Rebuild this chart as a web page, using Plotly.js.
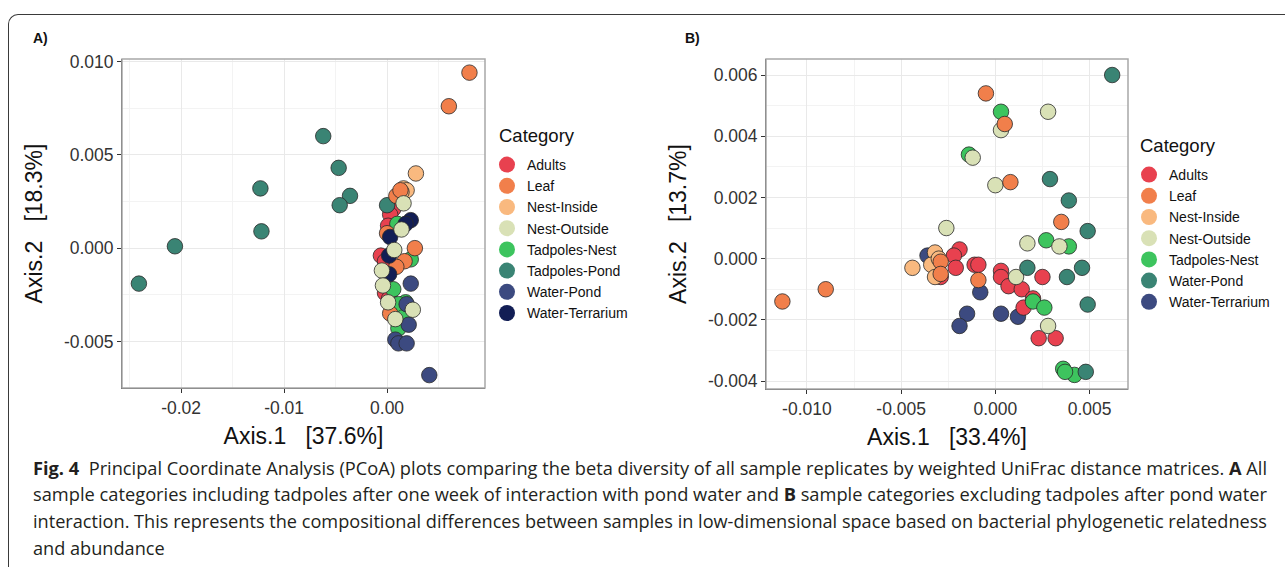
<!DOCTYPE html>
<html>
<head>
<meta charset="utf-8">
<script src="https://cdn.plot.ly/plotly-3.0.1.min.js"></script>
<style>
html,body{margin:0;padding:0;background:#fff;width:1285px;height:567px;overflow:hidden;position:relative;font-family:"Liberation Sans",Arial,sans-serif;}
#frame{position:absolute;left:8px;top:14px;width:1400px;height:700px;border-top:1.5px solid #3a3a3a;border-left:1.5px solid #3a3a3a;border-top-left-radius:10px;box-sizing:border-box;}
#plotA{position:absolute;left:0;top:0;width:660px;height:460px;}
#plotB{position:absolute;left:650px;top:0;width:700px;height:460px;}
.panel{position:absolute;font-family:"Liberation Sans",Arial,sans-serif;font-weight:bold;font-size:14px;color:#111;}
#cap{position:absolute;left:33px;top:0;font-family:"Open Sans",sans-serif;font-size:17.5px;color:#231f20;}
.line{position:absolute;left:0;white-space:nowrap;transform-origin:0 0;line-height:20px;}
</style>
</head>
<body>
<div id="frame"></div>
<div id="plotA"></div>
<div id="plotB"></div>
<div class="panel" style="left:33px;top:30px;">A)</div>
<div class="panel" style="left:685px;top:30px;">B)</div>
<div id="cap">
  <div class="line" id="l1" style="top:458px;"><b>Fig. 4</b>&nbsp; Principal Coordinate Analysis (PCoA) plots comparing the beta diversity of all sample replicates by weighted UniFrac distance matrices. <b>A</b> All</div>
  <div class="line" id="l2" style="top:484px;">sample categories including tadpoles after one week of interaction with pond water and <b>B</b> sample categories excluding tadpoles after pond water</div>
  <div class="line" id="l3" style="top:511px;">interaction. This represents the compositional differences between samples in low-dimensional space based on bacterial phylogenetic relatedness</div>
  <div class="line" id="l4" style="top:538px;">and abundance</div>
</div>
<script>
// ---------- Panel A data (all categories incl. tadpoles) ----------
const categoriesA = ['Adults','Leaf','Nest-Inside','Nest-Outside','Tadpoles-Nest','Tadpoles-Pond','Water-Pond','Water-Terrarium'];
const a_adults_x  = [0.0006, 0.0003, 0.0001, -0.0006, -0.0002, -0.0002, 0.0002];
const a_adults_y  = [0.0021, 0.0018, 0.0012, -0.0004, -0.0007, -0.0024, -0.0027];
const a_leaf_x    = [0.0080, 0.0060, 0.0009, 0.0013, 0.0000, 0.0027, 0.0017, 0.0009, 0.0003];
const a_leaf_y    = [0.0094, 0.0076, 0.0028, 0.0031, 0.0008, 0.0000, -0.0007, -0.0010, -0.0035];
const a_nestin_x  = [0.0028, 0.0016, 0.0019, 0.0014];
const a_nestin_y  = [0.0040, 0.0032, 0.0031, 0.0030];
const a_nestout_x = [0.0016, 0.0014, 0.0007, -0.0005, -0.0004, 0.0001, 0.0025, 0.0008];
const a_nestout_y = [0.0024, 0.0010, -0.0001, -0.0012, -0.0020, -0.0029, -0.0033, -0.0038];
const a_tadnest_x = [0.0010, 0.0023, 0.0006, 0.0018, 0.0011, 0.0011, 0.0016];
const a_tadnest_y = [0.0013, -0.0006, -0.0022, -0.0029, -0.0030, -0.0043, -0.0037];
const a_tadpond_x = [-0.0062, -0.0047, -0.0123, -0.0036, -0.0046, -0.0122, -0.0206, -0.0241, 0.0000];
const a_tadpond_y = [0.0060, 0.0043, 0.0032, 0.0028, 0.0023, 0.0009, 0.0001, -0.0019, 0.0023];
const a_wpond_x   = [0.0023, 0.0019, 0.0021, 0.0008, 0.0011, 0.0019, 0.0041];
const a_wpond_y   = [-0.0019, -0.0030, -0.0041, -0.0049, -0.0051, -0.0051, -0.0068];
const a_wterr_x   = [0.0023, 0.0018, 0.0003, 0.0002, 0.0002];
const a_wterr_y   = [0.0015, 0.0013, 0.0006, -0.0004, -0.0014];

// ---------- Panel B data (excluding tadpoles) ----------
const categoriesB = ['Adults','Leaf','Nest-Inside','Nest-Outside','Tadpoles-Nest','Water-Pond','Water-Terrarium'];
const b_adults_x  = [-0.0019, -0.0022, -0.0021, -0.0029, -0.0011, -0.0009, 0.0003, 0.0003, 0.0007, 0.0014, 0.0015, 0.0020, 0.0025, 0.0023, 0.0032];
const b_adults_y  = [0.0003, 0.0001, -0.0003, -0.0006, -0.0002, -0.0002, -0.0004, -0.0006, -0.0009, -0.0010, -0.0016, -0.0013, -0.0006, -0.0026, -0.0026];
const b_leaf_x    = [-0.0005, 0.0005, 0.0008, 0.0035, -0.0113, -0.0090, -0.0029, -0.0029, -0.0009];
const b_leaf_y    = [0.0054, 0.0044, 0.0025, 0.0012, -0.0014, -0.0010, -0.0001, -0.0005, -0.0007];
const b_nestin_x  = [-0.0044, -0.0032, -0.0034, -0.0032, -0.0030];
const b_nestin_y  = [-0.0003, 0.0002, -0.0002, -0.0006, 0.0000];
const b_nestout_x = [0.0028, 0.0003, -0.0012, 0.0000, -0.0026, 0.0017, 0.0034, 0.0011, 0.0028];
const b_nestout_y = [0.0048, 0.0042, 0.0033, 0.0024, 0.0010, 0.0005, 0.0004, -0.0006, -0.0022];
const b_tadnest_x = [0.0003, -0.0014, 0.0027, 0.0039, 0.0020, 0.0026, 0.0036, 0.0042, 0.0037];
const b_tadnest_y = [0.0048, 0.0034, 0.0006, 0.0004, -0.0014, -0.0016, -0.0036, -0.0038, -0.0037];
const b_wpond_x   = [0.0062, 0.0029, 0.0039, 0.0049, 0.0017, 0.0046, 0.0038, 0.0049, 0.0048];
const b_wpond_y   = [0.0060, 0.0026, 0.0019, 0.0009, -0.0003, -0.0003, -0.0006, -0.0015, -0.0037];
const b_wterr_x   = [-0.0036, -0.0008, -0.0015, -0.0019, 0.0003, 0.0012];
const b_wterr_y   = [0.0001, -0.0011, -0.0018, -0.0022, -0.0018, -0.0019];

// ---------- Tick labels / titles ----------
const aXTickVals = [-0.02, -0.01, 0.00];
const aXTickText = ['-0.02', '-0.01', '0.00'];
const aYTickVals = [-0.005, 0.000, 0.005, 0.010];
const aYTickText = ['-0.005', '0.000', '0.005', '0.010'];
const bXTickVals = [-0.010, -0.005, 0.000, 0.005];
const bXTickText = ['-0.010', '-0.005', '0.000', '0.005'];
const bYTickVals = [-0.004, -0.002, 0.000, 0.002, 0.004, 0.006];
const bYTickText = ['-0.004', '-0.002', '0.000', '0.002', '0.004', '0.006'];
const aXTitle = 'Axis.1\u00a0\u00a0\u00a0[37.6%]';
const aYTitle = 'Axis.2\u00a0\u00a0\u00a0[18.3%]';
const bXTitle = 'Axis.1\u00a0\u00a0\u00a0[33.4%]';
const bYTitle = 'Axis.2\u00a0\u00a0\u00a0[13.7%]';
const legendTitle = 'Category';

// ---------- Styles ----------
const colA = {'Adults':'#E8414F','Leaf':'#F17F4B','Nest-Inside':'#F9B97F','Nest-Outside':'#D9E1B6','Tadpoles-Nest':'#3DC45E','Tadpoles-Pond':'#3A8474','Water-Pond':'#3C4A80','Water-Terrarium':'#121E55'};
const colB = {'Adults':'#E8414F','Leaf':'#F17F4B','Nest-Inside':'#F9B97F','Nest-Outside':'#D9E1B6','Tadpoles-Nest':'#3DC45E','Water-Pond':'#3A8474','Water-Terrarium':'#3C4A80'};
const FONT = '"Liberation Sans", Arial, sans-serif';

function pts(name, xs, ys, cmap){
  return {type:'scatter', mode:'markers', x:xs, y:ys, name:name, showlegend:false, hoverinfo:'skip',
    marker:{size:15.5, color:cmap[name], line:{color:'#2a2a2a', width:0.8}}};
}
function legendEntries(cats, cmap){
  return cats.map(c => ({type:'scatter', mode:'markers', x:[null], y:[null], name:c, showlegend:true,
    marker:{size:16, color:cmap[c], line:{width:0}}}));
}
function axis(range, tv, tt, minorD, title, standoff){
  return {range:range, tickmode:'array', tickvals:tv, ticktext:tt, ticks:'outside', ticklen:4, tickwidth:1, tickcolor:'#333',
    showline:true, linecolor:'#444', linewidth:1, zeroline:false, showgrid:true, gridcolor:'#e9e9e9', gridwidth:1,
    minor:{dtick:minorD, tick0:0, showgrid:true, gridcolor:'#f3f3f3', gridwidth:1, ticks:''},
    tickfont:{family:FONT, size:17.5, color:'#333'},
    title:{text:title, font:{family:FONT, size:23, color:'#111'}, standoff:standoff}, automargin:false, fixedrange:true};
}
function layout(xax, yax, m, leg){
  return {width:m.w, height:m.h, margin:{l:m.l, r:m.r, t:m.t, b:m.b, autoexpand:false}, paper_bgcolor:'rgba(0,0,0,0)', plot_bgcolor:'#fff',
    xaxis:xax, yaxis:yax, showlegend:true,
    legend:{x:leg.x, xanchor:'left', y:leg.y, yanchor:'top', bgcolor:'rgba(0,0,0,0)', tracegroupgap:0, itemsizing:'trace',
      font:{family:FONT, size:14, color:'#111'}},
    annotations:[{text:legendTitle, xref:'paper', yref:'paper', x:leg.tx, y:leg.ty, xanchor:'left', yanchor:'middle', showarrow:false,
      font:{family:FONT, size:18.5, color:'#111'}}],
    shapes:[{type:'rect', xref:'paper', yref:'paper', x0:0, x1:1, y0:0, y1:1, line:{color:'#a8a8a8', width:1.5}, layer:'above'}],
    font:{family:FONT}};
}

const tracesA = [
  pts('Adults', a_adults_x, a_adults_y, colA),
  pts('Tadpoles-Nest', a_tadnest_x, a_tadnest_y, colA),
  pts('Water-Pond', a_wpond_x, a_wpond_y, colA),
  pts('Tadpoles-Pond', a_tadpond_x, a_tadpond_y, colA),
  pts('Nest-Inside', a_nestin_x, a_nestin_y, colA),
  pts('Leaf', a_leaf_x, a_leaf_y, colA),
  pts('Water-Terrarium', a_wterr_x, a_wterr_y, colA),
  pts('Nest-Outside', a_nestout_x, a_nestout_y, colA)
].concat(legendEntries(categoriesA, colA));

const tracesB = [
  pts('Water-Terrarium', b_wterr_x, b_wterr_y, colB),
  pts('Adults', b_adults_x, b_adults_y, colB),
  pts('Nest-Inside', b_nestin_x, b_nestin_y, colB),
  pts('Tadpoles-Nest', b_tadnest_x, b_tadnest_y, colB),
  pts('Nest-Outside', b_nestout_x, b_nestout_y, colB),
  pts('Leaf', b_leaf_x, b_leaf_y, colB),
  pts('Water-Pond', b_wpond_x, b_wpond_y, colB)
].concat(legendEntries(categoriesB, colB));

const layA = layout(
  axis([-0.02574, 0.00951], aXTickVals, aXTickText, 0.005, aXTitle, 10),
  axis([-0.00749, 0.01013], aYTickVals, aYTickText, 0.0025, aYTitle, 14),
  {w:660, h:460, l:122, r:175, t:59, b:72},
  {x:1.0055, y:0.7264, tx:1.033, ty:0.766});
const layB = layout(
  axis([-0.01217, 0.00704], bXTickVals, bXTickText, 0.0025, bXTitle, 10),
  axis([-0.00426, 0.006524], bYTickVals, bYTickText, 0.001, bYTitle, 14),
  {w:700, h:460, l:116, r:222, t:59, b:71},
  {x:1.0028, y:0.697, tx:1.0276, ty:0.7364});

Plotly.newPlot('plotA', tracesA, layA, {staticPlot:true, displayModeBar:false});
Plotly.newPlot('plotB', tracesB, layB, {staticPlot:true, displayModeBar:false});

// fit caption lines (justified look)
(function(){
  const target = 1234;
  let scales = [];
  ['l1','l2','l3'].forEach(id => {
    const el = document.getElementById(id);
    const w = el.getBoundingClientRect().width;
    const s = target / w;
    scales.push(s);
    el.style.transform = 'scaleX(' + s + ')';
  });
  const l4 = document.getElementById('l4');
  l4.style.transform = 'scaleX(' + scales[2] + ')';
})();
</script>
</body>
</html>
